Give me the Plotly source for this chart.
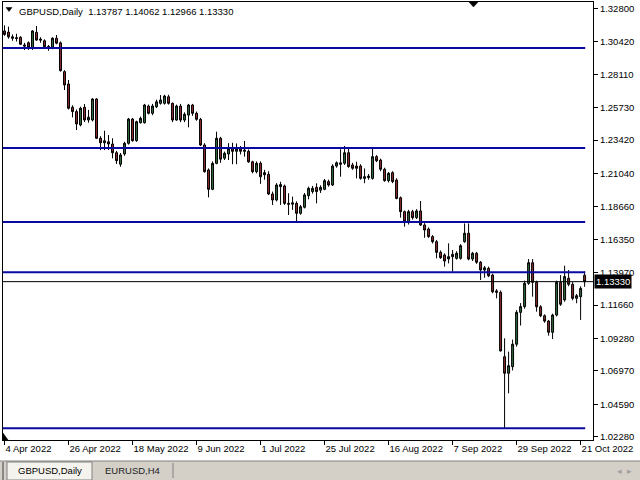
import plotly.graph_objects as go
import pandas as pd

# ---------------- data ----------------
dates = pd.bdate_range("2022-04-04", periods=146).strftime("%Y-%m-%d").tolist()

opens = [1.3120,1.3112,1.3078,1.3072,1.3075,1.3020,1.3036,1.2997,1.3110,1.3062,
         1.3050,1.3010,1.2997,1.3068,1.3035,1.2830,1.2742,1.2576,1.2545,1.2450,
         1.2576,1.2485,1.2485,1.2635,1.2355,1.2323,1.2330,1.2314,1.2252,1.2170,
         1.2243,1.2319,1.2492,1.2338,1.2466,1.2466,1.2585,1.2533,1.2580,1.2604,
         1.2604,1.2651,1.2604,1.2485,1.2585,1.2485,1.2520,1.2592,1.2533,1.2490,
         1.2307,1.2129,1.1991,1.2176,1.2355,1.2213,1.2243,1.2283,1.2262,1.2280,
         1.2262,1.2262,1.2187,1.2117,1.2177,1.2095,1.2098,1.1958,1.1915,1.2010,
         1.2015,1.1891,1.1885,1.1891,1.1820,1.1863,1.1946,1.1975,1.2005,1.1985,
         1.1991,1.2046,1.2022,1.2157,1.2180,1.2177,1.2252,1.2165,1.2157,1.2157,
         1.2069,1.2075,1.2069,1.2224,1.2200,1.2134,1.2053,1.2110,1.2057,1.1931,
         1.1832,1.1760,1.1832,1.1789,1.1837,1.1737,1.1708,1.1654,1.1618,1.1542,
         1.1523,1.1495,1.1528,1.1499,1.1499,1.1618,1.1678,1.1494,1.1535,1.1471,
         1.1416,1.1428,1.1380,1.1267,1.1257,1.0798,1.0680,1.0727,1.0887,1.1114,
         1.1155,1.1321,1.1468,1.1328,1.1154,1.1090,1.1052,1.0972,1.1095,1.1328,
         1.1203,1.1357,1.1314,1.1214,1.1226,1.13787]
highs = [1.3160,1.3150,1.3095,1.3100,1.3082,1.3035,1.3045,1.3125,1.3155,1.3075,
         1.3060,1.3020,1.3075,1.3091,1.3045,1.2840,1.2770,1.2590,1.2560,1.2580,
         1.2599,1.2557,1.2640,1.2640,1.2370,1.2409,1.2378,1.2355,1.2265,1.2250,
         1.2330,1.2500,1.2500,1.2480,1.2510,1.2600,1.2595,1.2600,1.2630,1.2663,
         1.2665,1.2665,1.2610,1.2595,1.2600,1.2540,1.2600,1.2600,1.2545,1.2500,
         1.2320,1.2140,1.2190,1.2402,1.2365,1.2260,1.2320,1.2323,1.2318,1.2300,
         1.2336,1.2275,1.2195,1.2190,1.2190,1.2130,1.2120,1.1975,1.2035,1.2045,
         1.2025,1.1963,1.1939,1.1905,1.1880,1.1965,1.2010,1.2015,1.2034,1.2020,
         1.2065,1.2060,1.2170,1.2190,1.2277,1.2300,1.2290,1.2180,1.2188,1.2170,
         1.2140,1.2100,1.2283,1.2235,1.2210,1.2145,1.2115,1.2120,1.2070,1.1940,
         1.1840,1.1845,1.1845,1.1850,1.1908,1.1750,1.1720,1.1665,1.1630,1.1555,
         1.1535,1.1606,1.1559,1.1550,1.1600,1.1748,1.1748,1.1545,1.1545,1.1480,
         1.1445,1.1440,1.1390,1.1280,1.1270,1.0929,1.0834,1.0920,1.1130,1.1180,
         1.1340,1.1494,1.1494,1.1340,1.1165,1.1100,1.1060,1.1105,1.1340,1.1380,
         1.1447,1.1416,1.1330,1.1245,1.1300,1.14062]
lows = [1.3085,1.3065,1.3050,1.3045,1.3020,1.2984,1.2985,1.2985,1.3050,1.3036,
        1.3000,1.2979,1.2990,1.3025,1.2830,1.2699,1.2560,1.2504,1.2414,1.2440,
        1.2470,1.2466,1.2475,1.2350,1.2271,1.2271,1.2271,1.2212,1.2172,1.2152,
        1.2230,1.2310,1.2330,1.2330,1.2460,1.2460,1.2525,1.2520,1.2570,1.2595,
        1.2595,1.2595,1.2470,1.2480,1.2470,1.2470,1.2433,1.2515,1.2480,1.2300,
        1.2110,1.1934,1.1985,1.2170,1.2180,1.2200,1.2200,1.2170,1.2170,1.2240,
        1.2224,1.2180,1.2105,1.2105,1.2030,1.2060,1.1950,1.1879,1.1905,1.1880,
        1.1880,1.1808,1.1844,1.1760,1.1810,1.1855,1.1920,1.1960,1.1891,1.1965,
        1.1985,1.2010,1.2015,1.2145,1.2081,1.2165,1.2145,1.2130,1.2069,1.2060,
        1.2035,1.2060,1.2060,1.2185,1.2120,1.2045,1.2040,1.2035,1.1920,1.1789,
        1.1725,1.1740,1.1775,1.1780,1.1730,1.1646,1.1645,1.1605,1.1499,1.1495,
        1.1440,1.1463,1.1404,1.1490,1.1490,1.1610,1.1485,1.1480,1.1460,1.1345,
        1.1361,1.1365,1.1250,1.1214,1.0835,1.0290,1.0537,1.0700,1.0870,1.1020,
        1.1140,1.1310,1.1226,1.1119,1.1080,1.1040,1.0948,1.0924,1.1085,1.1160,
        1.1190,1.1300,1.1200,1.1179,1.1060,1.12966]
closes = [1.3095,1.3078,1.3068,1.3066,1.3025,1.3012,1.3003,1.3120,1.3055,1.3055,
          1.3008,1.3000,1.3068,1.3033,1.2837,1.2735,1.2569,1.2545,1.2457,1.2569,
          1.2485,1.2505,1.2635,1.2355,1.2323,1.2337,1.2314,1.2252,1.2195,1.2236,
          1.2319,1.2492,1.2338,1.2473,1.2497,1.2592,1.2533,1.2585,1.2615,1.2628,
          1.2656,1.2604,1.2485,1.2585,1.2485,1.2526,1.2592,1.2533,1.2490,1.2307,
          1.2117,1.1991,1.2176,1.2355,1.2206,1.2248,1.2283,1.2262,1.2280,1.2262,
          1.2270,1.2187,1.2117,1.2177,1.2081,1.2110,1.1958,1.1915,1.2022,1.2025,
          1.1891,1.1885,1.1895,1.1820,1.1867,1.1951,1.1998,1.1998,1.1975,1.2005,
          1.2053,1.2022,1.2157,1.2180,1.2170,1.2252,1.2153,1.2141,1.2141,1.2069,
          1.2081,1.2085,1.2224,1.2195,1.2134,1.2053,1.2105,1.2046,1.1926,1.1832,
          1.1760,1.1832,1.1789,1.1837,1.1737,1.1701,1.1654,1.1618,1.1542,1.1504,
          1.1480,1.1511,1.1511,1.1535,1.1589,1.1678,1.1494,1.1535,1.1471,1.1416,
          1.1432,1.1375,1.1261,1.1257,1.0839,1.0680,1.0734,1.0887,1.1114,1.1155,
          1.1321,1.1468,1.1328,1.1154,1.1090,1.1052,1.0972,1.1095,1.1328,1.1172,
          1.1369,1.1314,1.1214,1.1233,1.1285,1.13330]

levels = [1.2998, 1.2286, 1.1758, 1.1400, 1.0288]
last_price = 1.13330
price_ticks = [1.32800, 1.30420, 1.28110, 1.25730, 1.23420, 1.21040, 1.18660,
               1.16350, 1.13970, 1.11660, 1.09280, 1.06970, 1.04590, 1.02280]
date_tick_idx = [0, 16, 32, 48, 64, 80, 96, 112, 128, 144]
date_tick_labels = ["4 Apr 2022", "26 Apr 2022", "18 May 2022", "9 Jun 2022",
                    "1 Jul 2022", "25 Jul 2022", "16 Aug 2022", "7 Sep 2022",
                    "29 Sep 2022", "21 Oct 2022"]
header = "GBPUSD,Daily  1.13787 1.14062 1.12966 1.13330"
tabs = ["GBPUSD,Daily", "EURUSD,H4"]

# ---------------- style ----------------
FONT = "Liberation Sans"
GREEN = "#2f6a3c"
RED = "#8c2b2b"
BLUE = "#0a0aa0"
W, H = 640, 480
L, R, T, B = 3, 593, 2, 440   # plot area in pixels


def px(x):
    return (x - L) / (R - L)


def py(y):
    return (B - y) / (B - T)


fig = go.Figure()

fig.add_trace(go.Candlestick(
    x=dates, open=opens, high=highs, low=lows, close=closes,
    increasing=dict(line=dict(color="black", width=1), fillcolor=GREEN),
    decreasing=dict(line=dict(color="black", width=1), fillcolor=RED),
    whiskerwidth=0, hoverinfo="skip", showlegend=False,
))

shapes = []
n = len(dates)
for lv in levels:
    shapes.append(dict(type="line", xref="x", yref="y", x0=-1, x1=n - 1 + 0.15,
                       y0=lv, y1=lv, line=dict(color=BLUE, width=2)))
shapes.append(dict(type="line", xref="paper", yref="y", x0=0, x1=1,
                   y0=last_price, y1=last_price, line=dict(color="black", width=1)))


def tri(points):
    path = "M " + " L ".join(f"{px(a)},{py(b)}" for a, b in points) + " Z"
    return dict(type="path", xref="paper", yref="paper", path=path,
                fillcolor="black", line=dict(color="black", width=0.5))


shapes.append(tri([(6, 7.5), (12, 7.5), (9, 11.5)]))          # header arrow
shapes.append(tri([(469, 2), (478, 2), (473.5, 7)]))         # shift marker
shapes.append(tri([(3, 433), (8, 440), (3, 440)]))           # scale marker

# bottom tab bar
shapes.append(dict(type="rect", xref="paper", yref="paper", x0=px(0), x1=px(640),
                   y0=py(480), y1=py(461), fillcolor="#d4d0c8", line=dict(width=0), layer="below"))
shapes.append(dict(type="line", xref="paper", yref="paper", x0=px(0), x1=px(640),
                   y0=py(461), y1=py(461), line=dict(color="#808080", width=1)))
shapes.append(dict(type="rect", xref="paper", yref="paper", x0=px(7), x1=px(92),
                   y0=py(480), y1=py(462), fillcolor="#f4f3ee",
                   line=dict(color="#808080", width=1)))
shapes.append(dict(type="line", xref="paper", yref="paper", x0=px(173), x1=px(173),
                   y0=py(478), y1=py(463), line=dict(color="#808080", width=1)))
shapes.append(dict(type="line", xref="paper", yref="paper", x0=px(3), x1=px(3),
                   y0=py(480), y1=py(462), line=dict(color="#404040", width=1)))

annotations = [
    dict(text=header, xref="paper", yref="paper", x=px(17), y=py(4), xanchor="left",
         yanchor="top", showarrow=False, font=dict(family=FONT, size=9.5, color="black")),
    dict(text=f"{last_price:.5f}", xref="paper", yref="y", x=px(594), y=last_price,
         xanchor="left", yanchor="middle", showarrow=False, bgcolor="black",
         borderpad=1, font=dict(family=FONT, size=9.5, color="white")),
    dict(text=tabs[0], xref="paper", yref="paper", x=px(49.5), y=py(471),
         xanchor="center", yanchor="middle", showarrow=False,
         font=dict(family=FONT, size=9.5, color="black")),
    dict(text=tabs[1], xref="paper", yref="paper", x=px(132), y=py(471),
         xanchor="center", yanchor="middle", showarrow=False,
         font=dict(family=FONT, size=9.5, color="#202020")),
    dict(text="◂  ▸", xref="paper", yref="paper", x=px(624), y=py(471),
         xanchor="center", yanchor="middle", showarrow=False,
         font=dict(family=FONT, size=9, color="#a0a0a0")),
]

fig.update_layout(
    width=W, height=H,
    margin=dict(l=L, r=W - R, t=T, b=H - B, pad=0),
    paper_bgcolor="white", plot_bgcolor="white",
    font=dict(family=FONT, size=9.5, color="black"),
    showlegend=False,
    shapes=shapes, annotations=annotations,
    xaxis=dict(
        type="category", range=[-0.375, 147.1], rangeslider=dict(visible=False),
        showgrid=False, zeroline=False, showline=True, mirror=True,
        linecolor="black", linewidth=1,
        tickmode="array", tickvals=[dates[i] for i in date_tick_idx],
        ticktext=date_tick_labels, ticks="outside", ticklen=4, tickcolor="black",
        ticklabelposition="outside right", tickfont=dict(family=FONT, size=9.5),
        fixedrange=True,
    ),
    yaxis=dict(
        side="right", range=[1.02043, 1.33263], showgrid=False, zeroline=False,
        showline=True, mirror=True, linecolor="black", linewidth=1,
        tickmode="array", tickvals=price_ticks,
        ticktext=[f"{v:.5f}" for v in price_ticks],
        ticks="outside", ticklen=4, tickcolor="black",
        tickfont=dict(family=FONT, size=9.5), fixedrange=True,
    ),
)

fig.write_html(
    "out.html",
    config={"displayModeBar": False, "staticPlot": True},
    post_script="document.body.style.margin='0';document.body.style.overflow='hidden';",
)
